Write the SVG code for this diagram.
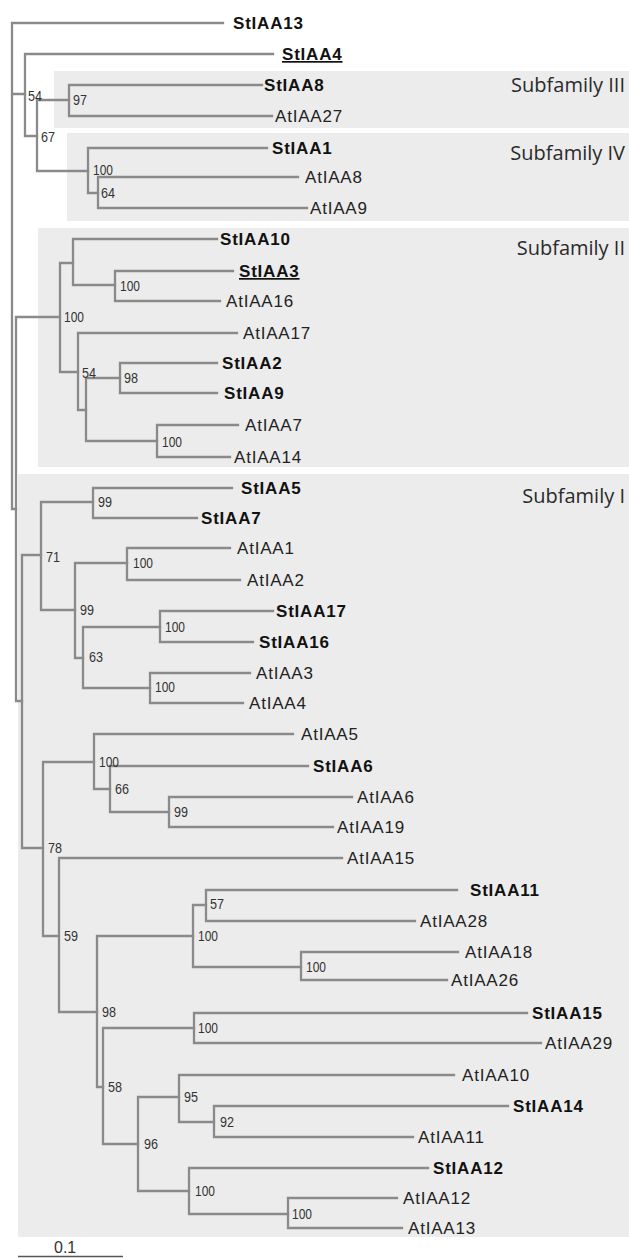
<svg xmlns="http://www.w3.org/2000/svg" width="629" height="1258" viewBox="0 0 629 1258">
  <style>
    .band { fill: #ececec; }
    .br { fill: none; stroke: #8a8a8a; stroke-width: 2.3; stroke-linejoin: miter; stroke-linecap: square; }
    .lf { font-family: "Liberation Sans", Arial, sans-serif; font-size: 17px; letter-spacing: 0.8px; fill: #222; }
    .st { font-weight: bold; fill: #111; }
    .ul { text-decoration: underline; }
    .bs { font-family: "Liberation Sans", Arial, sans-serif; font-size: 15px; fill: #333; }
    .sf { font-family: "Open Sans", "Noto Sans", sans-serif; font-size: 20px; fill: #2a2a2a; text-anchor: end; }
    .sc { font-family: "Liberation Sans", Arial, sans-serif; font-size: 16px; fill: #333; }
  </style>
  <rect width="629" height="1258" fill="#ffffff"/>

  <!-- subfamily shading -->
  <g id="bands">
    <rect class="band" x="54" y="71" width="575" height="57"/>
    <rect class="band" x="67" y="133" width="562" height="88"/>
    <rect class="band" x="38" y="228" width="591" height="239"/>
    <rect class="band" x="18" y="474" width="611" height="763"/>
  </g>

  <g id="subfamily-labels">
    <text class="sf" x="625" y="92">Subfamily III</text>
    <text class="sf" x="625" y="160">Subfamily IV</text>
    <text class="sf" x="625" y="255">Subfamily II</text>
    <text class="sf" x="625" y="503">Subfamily I</text>
  </g>

  <!-- branches: each path is one internal node with its two child edges -->
  <g id="connectors" class="br">
    <path d="M223,23 H12 V509 H16 M12,94 H25"/>
    <path d="M273,54 H25 V136 H37"/>
    <path d="M69,100 H37 V171 H88"/>
    <path d="M262,85 H69 V116 H272"/>
    <path d="M267,148 H88 V193 H98"/>
    <path d="M298,177 H98 V208 H307"/>
    <path d="M60,317 H16 V701 H22"/>
    <path d="M73,263 H60 V372 H78"/>
    <path d="M217,239 H73 V285 H115"/>
    <path d="M233,271 H115 V301 H220"/>
    <path d="M237,333 H78 V410 H86"/>
    <path d="M120,378 H86 V441 H157"/>
    <path d="M217,363 H120 V393 H217"/>
    <path d="M238,425 H157 V457 H230"/>
    <path d="M41,555 H22 V848 H43"/>
    <path d="M93,502 H41 V610 H75"/>
    <path d="M232,488 H93 V518 H197"/>
    <path d="M127,563 H75 V658 H83"/>
    <path d="M230,548 H127 V580 H240"/>
    <path d="M160,627 H83 V688 H150"/>
    <path d="M273,611 H160 V642 H253"/>
    <path d="M250,673 H150 V703 H243"/>
    <path d="M94,762 H43 V936 H59"/>
    <path d="M293,734 H94 V789 H110"/>
    <path d="M308,766 H110 V812 H169"/>
    <path d="M352,797 H169 V827 H333"/>
    <path d="M342,858 H59 V1012 H97"/>
    <path d="M193,936 H97 V1087 H103"/>
    <path d="M206,905 H193 V967 H301"/>
    <path d="M457,890 H206 V921 H415"/>
    <path d="M458,952 H301 V980 H447"/>
    <path d="M194,1028 H103 V1144 H138"/>
    <path d="M527,1013 H194 V1043 H541"/>
    <path d="M179,1097 H138 V1191 H189"/>
    <path d="M454,1075 H179 V1122 H214"/>
    <path d="M508,1106 H214 V1137 H413"/>
    <path d="M428,1168 H189 V1214 H288"/>
    <path d="M397,1198 H288 V1228 H402"/>
  </g>

  <!-- leaf labels -->
  <g id="leaves" class="lf">
    <g id="StIAA13"><text class="st" x="233" y="29">StIAA13</text></g>
    <g id="StIAA4"><text class="st ul" x="282" y="60">StIAA4</text></g>
    <g id="StIAA8"><text class="st" x="264" y="91">StIAA8</text></g>
    <g id="AtIAA27"><text x="275" y="122">AtIAA27</text></g>
    <g id="StIAA1"><text class="st" x="272" y="154">StIAA1</text></g>
    <g id="AtIAA8"><text x="305" y="183">AtIAA8</text></g>
    <g id="AtIAA9"><text x="310" y="214">AtIAA9</text></g>
    <g id="StIAA10"><text class="st" x="220" y="245">StIAA10</text></g>
    <g id="StIAA3"><text class="st ul" x="239" y="277">StIAA3</text></g>
    <g id="AtIAA16"><text x="226" y="307">AtIAA16</text></g>
    <g id="AtIAA17"><text x="243" y="339">AtIAA17</text></g>
    <g id="StIAA2"><text class="st" x="222" y="369">StIAA2</text></g>
    <g id="StIAA9"><text class="st" x="224" y="399">StIAA9</text></g>
    <g id="AtIAA7"><text x="245" y="431">AtIAA7</text></g>
    <g id="AtIAA14"><text x="234" y="463">AtIAA14</text></g>
    <g id="StIAA5"><text class="st" x="241" y="494">StIAA5</text></g>
    <g id="StIAA7"><text class="st" x="201" y="524">StIAA7</text></g>
    <g id="AtIAA1"><text x="237" y="554">AtIAA1</text></g>
    <g id="AtIAA2"><text x="247" y="586">AtIAA2</text></g>
    <g id="StIAA17"><text class="st" x="276" y="617">StIAA17</text></g>
    <g id="StIAA16"><text class="st" x="259" y="648">StIAA16</text></g>
    <g id="AtIAA3"><text x="256" y="679">AtIAA3</text></g>
    <g id="AtIAA4"><text x="249" y="709">AtIAA4</text></g>
    <g id="AtIAA5"><text x="301" y="740">AtIAA5</text></g>
    <g id="StIAA6"><text class="st" x="313" y="772">StIAA6</text></g>
    <g id="AtIAA6"><text x="357" y="803">AtIAA6</text></g>
    <g id="AtIAA19"><text x="337" y="833">AtIAA19</text></g>
    <g id="AtIAA15"><text x="347" y="864">AtIAA15</text></g>
    <g id="StIAA11"><text class="st" x="470" y="896">StIAA11</text></g>
    <g id="AtIAA28"><text x="420" y="927">AtIAA28</text></g>
    <g id="AtIAA18"><text x="465" y="958">AtIAA18</text></g>
    <g id="AtIAA26"><text x="451" y="986">AtIAA26</text></g>
    <g id="StIAA15"><text class="st" x="532" y="1019">StIAA15</text></g>
    <g id="AtIAA29"><text x="545" y="1049">AtIAA29</text></g>
    <g id="AtIAA10"><text x="462" y="1081">AtIAA10</text></g>
    <g id="StIAA14"><text class="st" x="513" y="1112">StIAA14</text></g>
    <g id="AtIAA11"><text x="418" y="1143">AtIAA11</text></g>
    <g id="StIAA12"><text class="st" x="433" y="1174">StIAA12</text></g>
    <g id="AtIAA12"><text x="403" y="1204">AtIAA12</text></g>
    <g id="AtIAA13"><text x="408" y="1234">AtIAA13</text></g>
  </g>

  <!-- bootstrap support at internal nodes -->
  <g id="support" class="bs">
    <g id="n54a"><text x="28" y="101" textLength="14" lengthAdjust="spacingAndGlyphs">54</text></g>
    <g id="n67"><text x="41" y="142" textLength="14" lengthAdjust="spacingAndGlyphs">67</text></g>
    <g id="n97"><text x="73" y="105" textLength="14" lengthAdjust="spacingAndGlyphs">97</text></g>
    <g id="n100a"><text x="93" y="175" textLength="20" lengthAdjust="spacingAndGlyphs">100</text></g>
    <g id="n64"><text x="101" y="198" textLength="14" lengthAdjust="spacingAndGlyphs">64</text></g>
    <g id="n100II"><text x="64" y="322" textLength="20" lengthAdjust="spacingAndGlyphs">100</text></g>
    <g id="n100b"><text x="120" y="291" textLength="20" lengthAdjust="spacingAndGlyphs">100</text></g>
    <g id="n54b"><text x="82" y="378" textLength="14" lengthAdjust="spacingAndGlyphs">54</text></g>
    <g id="n98a"><text x="124" y="383" textLength="14" lengthAdjust="spacingAndGlyphs">98</text></g>
    <g id="n100c"><text x="162" y="447" textLength="20" lengthAdjust="spacingAndGlyphs">100</text></g>
    <g id="n99a"><text x="98" y="507" textLength="14" lengthAdjust="spacingAndGlyphs">99</text></g>
    <g id="n71"><text x="46" y="562" textLength="14" lengthAdjust="spacingAndGlyphs">71</text></g>
    <g id="n100d"><text x="133" y="568" textLength="20" lengthAdjust="spacingAndGlyphs">100</text></g>
    <g id="n99b"><text x="80" y="615" textLength="14" lengthAdjust="spacingAndGlyphs">99</text></g>
    <g id="n100e"><text x="165" y="632" textLength="20" lengthAdjust="spacingAndGlyphs">100</text></g>
    <g id="n63"><text x="89" y="662" textLength="14" lengthAdjust="spacingAndGlyphs">63</text></g>
    <g id="n100f"><text x="155" y="692" textLength="20" lengthAdjust="spacingAndGlyphs">100</text></g>
    <g id="n100g"><text x="99" y="767" textLength="20" lengthAdjust="spacingAndGlyphs">100</text></g>
    <g id="n66"><text x="115" y="794" textLength="14" lengthAdjust="spacingAndGlyphs">66</text></g>
    <g id="n99c"><text x="174" y="817" textLength="14" lengthAdjust="spacingAndGlyphs">99</text></g>
    <g id="n78"><text x="48" y="853" textLength="14" lengthAdjust="spacingAndGlyphs">78</text></g>
    <g id="n57"><text x="210" y="909" textLength="14" lengthAdjust="spacingAndGlyphs">57</text></g>
    <g id="n59"><text x="64" y="941" textLength="14" lengthAdjust="spacingAndGlyphs">59</text></g>
    <g id="n100h"><text x="198" y="941" textLength="20" lengthAdjust="spacingAndGlyphs">100</text></g>
    <g id="n100i"><text x="306" y="972" textLength="20" lengthAdjust="spacingAndGlyphs">100</text></g>
    <g id="n98b"><text x="102" y="1017" textLength="14" lengthAdjust="spacingAndGlyphs">98</text></g>
    <g id="n100j"><text x="198" y="1033" textLength="20" lengthAdjust="spacingAndGlyphs">100</text></g>
    <g id="n58"><text x="108" y="1092" textLength="14" lengthAdjust="spacingAndGlyphs">58</text></g>
    <g id="n95"><text x="184" y="1102" textLength="14" lengthAdjust="spacingAndGlyphs">95</text></g>
    <g id="n92"><text x="220" y="1127" textLength="14" lengthAdjust="spacingAndGlyphs">92</text></g>
    <g id="n96"><text x="144" y="1149" textLength="14" lengthAdjust="spacingAndGlyphs">96</text></g>
    <g id="n100k"><text x="195" y="1196" textLength="20" lengthAdjust="spacingAndGlyphs">100</text></g>
    <g id="n100l"><text x="292" y="1219" textLength="20" lengthAdjust="spacingAndGlyphs">100</text></g>
  </g>

  <!-- scale bar -->
  <g id="scale">
    <text class="sc" x="54" y="1253">0.1</text>
    <line x1="18" y1="1256.5" x2="123" y2="1256.5" stroke="#555" stroke-width="1.6"/>
  </g>
</svg>
